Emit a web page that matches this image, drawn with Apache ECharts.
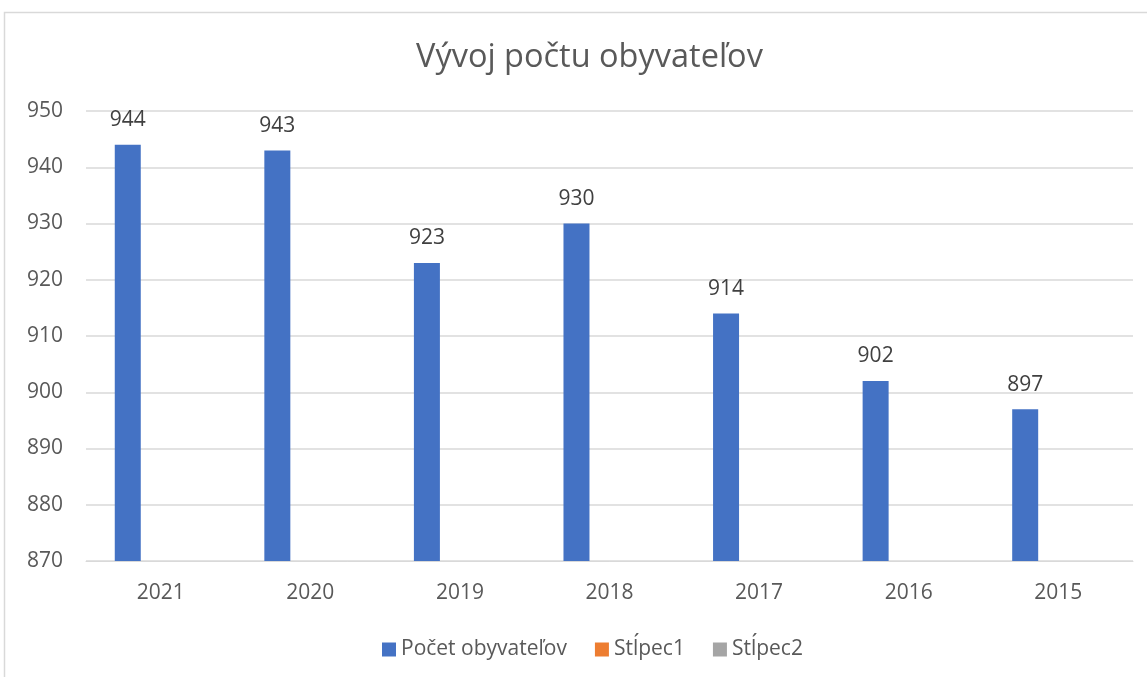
<!DOCTYPE html>
<html>
<head>
<meta charset="utf-8">
<script src="https://cdn.jsdelivr.net/npm/echarts@6/dist/echarts.min.js"></script>
<style>html,body{margin:0;padding:0;background:#fff}#c{width:1147px;height:677px}</style>
</head>
<body>
<div id="c"></div>
<script>
var categories = ['2021', '2020', '2019', '2018', '2017', '2016', '2015'];
var populationValues = [944, 943, 923, 930, 914, 902, 897];
var stlpec1Values = [null, null, null, null, null, null, null];
var stlpec2Values = [null, null, null, null, null, null, null];
var seriesNames = ['Počet obyvateľov', 'Stĺpec1', 'Stĺpec2'];
var titleText = 'Vývoj počtu obyvateľov';

var FONT = '"Open Sans", "DejaVu Sans", sans-serif';
var chart = echarts.init(document.getElementById('c'), null, {renderer: 'canvas'});
var barCommon = {
  type: 'bar',
  barWidth: 26,
  barGap: '27%'
};
chart.setOption({
  animation: false,
  backgroundColor: '#fff',
  color: ['#4472C4', '#ED7D31', '#A5A5A5'],
  title: {
    text: titleText,
    left: 411,
    top: 36,
    textStyle: {fontFamily: FONT, fontSize: 32.5, fontWeight: 'normal', color: '#595959'}
  },
  graphic: [{
    type: 'rect',
    shape: {x: 4.5, y: 12.5, width: 1200, height: 700},
    style: {fill: 'none', stroke: '#D9D9D9', lineWidth: 1.5},
    silent: true
  }],
  legend: {
    bottom: 12,
    left: 377,
    itemWidth: 14,
    itemHeight: 14,
    itemGap: 28,
    icon: 'rect',
    textStyle: {fontFamily: FONT, fontSize: 21, color: '#595959', padding: [0, 0, 0, 0]},
    data: seriesNames
  },
  grid: {left: 86, right: 14, top: 111, bottom: 116, containLabel: false},
  xAxis: {
    type: 'category',
    data: categories,
    axisLine: {show: true, lineStyle: {color: '#D9D9D9', width: 1}},
    axisTick: {show: false},
    axisLabel: {fontFamily: FONT, fontSize: 21, color: '#595959', margin: 22}
  },
  yAxis: {
    type: 'value',
    min: 870,
    max: 950,
    interval: 10,
    axisLine: {show: false},
    axisTick: {show: false},
    splitLine: {lineStyle: {color: '#D9D9D9', width: 1.5}},
    axisLabel: {fontFamily: FONT, fontSize: 21, color: '#595959', margin: 23}
  },
  series: [
    Object.assign({}, barCommon, {
      name: seriesNames[0],
      data: populationValues,
      label: {show: true, position: 'top', distance: 14, fontFamily: FONT, fontSize: 21, color: '#404040'}
    }),
    Object.assign({}, barCommon, {name: seriesNames[1], data: stlpec1Values}),
    Object.assign({}, barCommon, {name: seriesNames[2], data: stlpec2Values})
  ]
});
</script>
</body>
</html>
